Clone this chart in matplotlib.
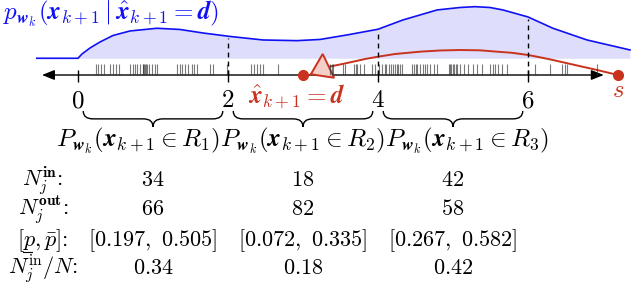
import matplotlib

matplotlib.use("Agg")
import matplotlib.pyplot as plt
import numpy as np
from matplotlib.mathtext import MathTextParser
from matplotlib.patches import FancyArrowPatch, PathPatch
from matplotlib.path import Path

plt.rcParams["mathtext.fontset"] = "cm"
plt.rcParams["font.family"] = ["cmr10", "DejaVu Serif"]

blue = "#1010f5"
fillBlue = "#dedefc"
red = "#c8321e"
redLight = "#f3cfc8"

# regions on the line and their names
regionEdges = [0, 2, 4, 6]
regionNames = ["R_1", "R_2", "R_3"]

# samples x_{k+1}^{(i)} drawn as small ticks on the line
samples = [
    0.24, 0.27, 0.31, 0.35, 0.43, 0.46, 0.50, 0.54, 0.69, 0.73, 0.76, 0.78,
    0.83, 0.86, 0.87, 0.88, 0.89, 0.90, 0.92, 0.95, 0.98, 1.02, 1.05, 1.32,
    1.36, 1.39, 1.43, 1.47, 1.55, 1.58, 1.76, 1.80, 1.99, 1.52,
    2.31, 2.35, 2.38, 2.43, 2.47, 2.67, 3.36, 3.38, 3.40, 3.53, 3.56, 3.68,
    3.70, 3.72, 3.76, 3.81, 3.92, 3.96,
    4.02, 4.05, 4.09, 4.11, 4.14, 4.17, 4.20, 4.22, 4.25, 4.27, 4.29, 4.32,
    4.45, 4.48, 4.50, 4.52, 4.56, 4.60, 4.62, 4.65, 4.69, 4.74, 4.79, 4.94,
    4.96, 4.97, 5.00, 5.02, 5.04, 5.06, 5.09, 5.14, 5.20, 5.27, 5.32, 5.38,
    5.49, 5.53, 5.56, 5.60, 5.65, 5.72,
    6.09, 6.29, 6.45, 6.49, 6.52, 6.92,
]

# conditional density p_w(x_{k+1} | xhat_{k+1} = d)
densityX = [
    -0.55, 0.0, 0.053, 0.16, 0.293, 0.467, 0.693, 1.053, 1.36, 1.667, 2.027,
    2.467, 2.92, 3.227, 3.587, 4.0, 4.333, 4.787, 5.093, 5.293, 5.493, 5.667,
    6.0, 6.333, 6.787, 7.36,
]
densityY = [
    0.0, 0.0, 0.057, 0.137, 0.217, 0.304, 0.364, 0.4, 0.384, 0.337, 0.291,
    0.244, 0.235, 0.251, 0.311, 0.387, 0.511, 0.644, 0.677, 0.688, 0.677,
    0.644, 0.551, 0.4, 0.244, 0.111,
]

# estimator path from s back to the estimate d
estimateX = [
    7.2, 6.92, 6.627, 6.333, 6.16, 6.0, 5.787, 5.587, 5.36, 5.093, 4.827,
    4.56, 4.227, 4.0, 3.827, 3.667, 3.493, 3.293, 3.084,
]
estimateY = [
    0.0, 0.067, 0.133, 0.2, 0.236, 0.267, 0.296, 0.311, 0.329, 0.333, 0.327,
    0.311, 0.28, 0.244, 0.213, 0.177, 0.14, 0.1, 0.0,
]

dValue = 3.0
sValue = 7.2

# table
nIn = [34, 18, 42]
nOut = [66, 82, 58]
pLow = [0.197, 0.072, 0.267]
pHigh = [0.505, 0.335, 0.582]
nFrac = [0.34, 0.18, 0.42]

densityBase = 0.223
fs = 16
fsBig = 18


def safeMath(text, fallback):
    try:
        MathTextParser("path").parse(text)
        return text
    except Exception:
        return fallback


def bracePath(xa, xb, yTop, height, radius):
    xm = (xa + xb) / 2
    yMid = yTop - height / 2
    yTip = yTop - height
    verts = [
        (xa, yTop), (xa, yMid), (xa + radius, yMid),
        (xm - radius, yMid),
        (xm, yMid), (xm, yTip),
        (xm, yMid), (xm + radius, yMid),
        (xb - radius, yMid),
        (xb, yMid), (xb, yTop),
    ]
    codes = [
        Path.MOVETO, Path.CURVE3, Path.CURVE3,
        Path.LINETO,
        Path.CURVE3, Path.CURVE3,
        Path.CURVE3, Path.CURVE3,
        Path.LINETO,
        Path.CURVE3, Path.CURVE3,
    ]
    return Path(verts, codes)


fig = plt.figure(figsize=(6.4, 2.86), dpi=100)
ax = fig.add_axes([0, 0, 1, 1])
ax.set_xlim(-78 / 75, 562 / 75)
ax.set_ylim(-211 / 75, 1.0)
ax.axis("off")

densX = np.array(densityX)
densY = np.array(densityY)
ax.fill_between(densX, densityBase, densityBase + densY, color=fillBlue, lw=0)
ax.plot(densX, densityBase + densY, color=blue, lw=1.2)

ax.vlines(samples, 0, 0.147, color="0.2", lw=0.8, alpha=0.65)

edgeTops = densityBase + np.interp(regionEdges[1:], densX, densY) - 0.03
ax.vlines(regionEdges[1:], 0, edgeTops, color="black", lw=1.0,
          linestyles=(0, (3.5, 3)))
ax.vlines(regionEdges, -0.093, 0.067, color="black", lw=1.0)

axisArrow = FancyArrowPatch((-0.48, 0), (7.01, 0),
                            arrowstyle="<|-|>,head_length=0.75,head_width=0.3",
                            mutation_scale=10, lw=1.0, color="black",
                            shrinkA=0, shrinkB=0)
ax.add_patch(axisArrow)

estPath = Path(np.column_stack([estimateX, estimateY]))
estArrow = FancyArrowPatch(path=estPath,
                           arrowstyle="-|>,head_length=1.4,head_width=0.95",
                           mutation_scale=10, lw=1.4, ec=red, fc=redLight,
                           joinstyle="miter")
ax.add_patch(estArrow)

ax.plot([dValue, sValue], [0, 0], "o", color=red, ms=7, zorder=5)

for edge in regionEdges:
    ax.text(edge, -0.427, f"${edge}$", ha="center", va="baseline",
            fontsize=fsBig)

ax.text(-1.0, 0.733,
        r"$p_{\boldsymbol{w}_k}(\boldsymbol{x}_{k+1} \mid "
        r"\hat{\boldsymbol{x}}_{k+1} = \boldsymbol{d})$",
        ha="left", va="baseline", color=blue, fontsize=fsBig)
ax.text(2.92, -0.373, r"$\hat{\boldsymbol{x}}_{k+1} = \boldsymbol{d}$",
        ha="center", va="baseline", color=red, fontsize=fsBig)
ax.text(sValue, -0.293, r"$s$", ha="center", va="baseline", color=red,
        fontsize=fsBig)

for lo, hi in zip(regionEdges[:-1], regionEdges[1:]):
    ax.add_patch(PathPatch(bracePath(lo + 0.07, hi - 0.07, -0.48, 0.21, 0.13),
                           fc="none", ec="black", lw=1.0))

probRow = "".join(
    r"P_{\boldsymbol{w}_k}(\boldsymbol{x}_{k+1} \in %s)" % name
    for name in regionNames
)
ax.text(np.mean(regionEdges), -0.96, "$" + probRow + "$", ha="center",
        va="baseline", fontsize=fsBig)

centers = [(lo + hi) / 2 for lo, hi in zip(regionEdges[:-1], regionEdges[1:])]
rowY = [-1.48, -1.867, -2.28, -2.653]
boundLabel = safeMath(r"$[\underline{p}, \bar{p}]$", r"$[p, \bar{p}]$")
rowLabels = [
    r"$N_j^{\mathbf{in}}$:",
    r"$N_j^{\mathbf{out}}$:",
    boundLabel + ":",
    r"$N_j^{\mathrm{in}}/N$:",
]
rowValues = [
    [f"${v}$" for v in nIn],
    [f"${v}$" for v in nOut],
    [f"$[{lo:.3f},\\ {hi:.3f}]$" for lo, hi in zip(pLow, pHigh)],
    [f"${v:.2f}$" for v in nFrac],
]
labelTexts = []
for y, label, values in zip(rowY, rowLabels, rowValues):
    labelTexts.append(ax.text(-0.467, y, label, ha="center", va="baseline",
                              fontsize=fs))
    for cx, val in zip(centers, values):
        ax.text(cx, y, val, ha="center", va="baseline", fontsize=fs)

if "underline" not in boundLabel:
    fig.canvas.draw()
    bb = labelTexts[2].get_window_extent().transformed(ax.transData.inverted())
    w = bb.x1 - bb.x0
    ax.plot([bb.x0 + 0.1 * w, bb.x0 + 0.29 * w], [bb.y0 + 0.02, bb.y0 + 0.02],
            color="black", lw=0.8)

fig.savefig("out.png", dpi=100)
